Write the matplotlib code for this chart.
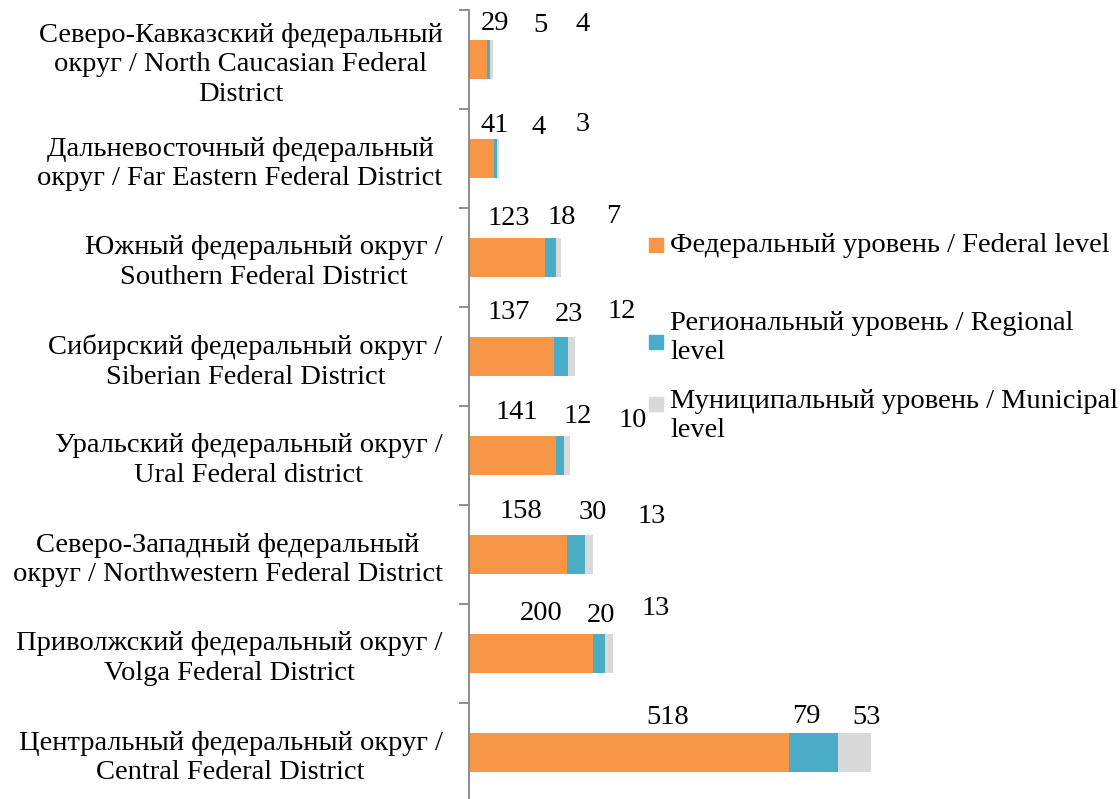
import matplotlib
matplotlib.use("Agg")
import matplotlib.pyplot as plt
from matplotlib.patches import Rectangle
import numpy as np

#########################################
# Data
#########################################

districts = [
    "Северо-Кавказский федеральный\nокруг / North Caucasian Federal\nDistrict",
    "Дальневосточный федеральный\nокруг / Far Eastern Federal District",
    "Южный федеральный округ /\nSouthern Federal District",
    "Сибирский федеральный округ /\nSiberian Federal District",
    "Уральский федеральный округ /\nUral Federal district",
    "Северо-Западный федеральный\nокруг / Northwestern Federal District",
    "Приволжский федеральный округ /\nVolga Federal District",
    "Центральный федеральный округ /\nCentral Federal District",
]
federal = [29, 41, 123, 137, 141, 158, 200, 518]
regional = [5, 4, 18, 23, 12, 30, 20, 79]
municipal = [4, 3, 7, 12, 10, 13, 13, 53]

levels = [
    "Федеральный уровень / Federal level",
    "Региональный уровень / Regional\nlevel",
    "Муниципальный уровень / Municipal\nlevel",
]
colors = ["#F79646", "#4BACC6", "#D9D9D9"]

# value labels were placed by hand in the original, keep their spots
label_x = [[42, 116, 184], [42, 112, 184], [65, 150, 234], [65, 162, 247],
           [78, 175, 264], [84, 200, 296], [116, 213, 302], [322, 545, 642]]
label_dy = [[-0.36, -0.34, -0.35], [-0.33, -0.31, -0.34], [-0.39, -0.40, -0.41],
            [-0.44, -0.42, -0.45], [-0.43, -0.39, -0.35], [-0.43, -0.42, -0.38],
            [-0.40, -0.38, -0.45], [-0.35, -0.36, -0.35]]

#########################################
# Plot
#########################################

FONT = "Liberation Serif"
FS = 20.5
plt.rcParams['font.family'] = [FONT, 'DejaVu Serif']

W, H = 1120, 799
fig = plt.figure(figsize=(W / 100, H / 100), dpi=100)
ax = fig.add_axes([469 / W, -3 / H, 618.5 / W, 792 / H])

y = np.arange(len(districts))
series = [federal, regional, municipal]
left = np.zeros(len(districts))
for vals, col in zip(series, colors):
    ax.barh(y, vals, left=left, height=0.4, color=col, edgecolor='none')
    left = left + np.array(vals)

for i in range(len(districts)):
    for j, vals in enumerate(series):
        ax.text(label_x[i][j], y[i] + label_dy[i][j], str(vals[i]),
                ha='center', va='center', fontsize=FS, color='black')

ax.set_xlim(0, 1000)
ax.set_ylim(len(districts) - 0.5, -0.5)

for s in ['top', 'right', 'bottom']:
    ax.spines[s].set_visible(False)
ax.spines['left'].set_color('#868686')
ax.spines['left'].set_linewidth(1.3)
ax.set_xticks([])

ax.set_yticks(y)
ax.set_yticklabels(districts, fontsize=FS, multialignment='center')
for t in ax.get_yticklabels():
    t.set_linespacing(1.25)
ax.tick_params(axis='y', which='major', length=0, pad=19)
ax.set_yticks(np.arange(-0.5, len(districts), 1), minor=True)
ax.tick_params(axis='y', which='minor', length=7, width=1.3, color='#868686')

# legend by hand, same layout as the original
legend_text_y = [245, 338, 416]
legend_box_y = [245, 342, 404]
for name, col, ty, by in zip(levels, colors, legend_text_y, legend_box_y):
    fig.patches.append(Rectangle((649 / W, 1 - (by + 7) / H), 14 / W, 14 / H,
                                 transform=fig.transFigure, color=col))
    fig.text(670 / W, 1 - ty / H, name, ha='left', va='center', fontsize=FS,
             linespacing=1.25)

fig.savefig("out.png", dpi=100)
